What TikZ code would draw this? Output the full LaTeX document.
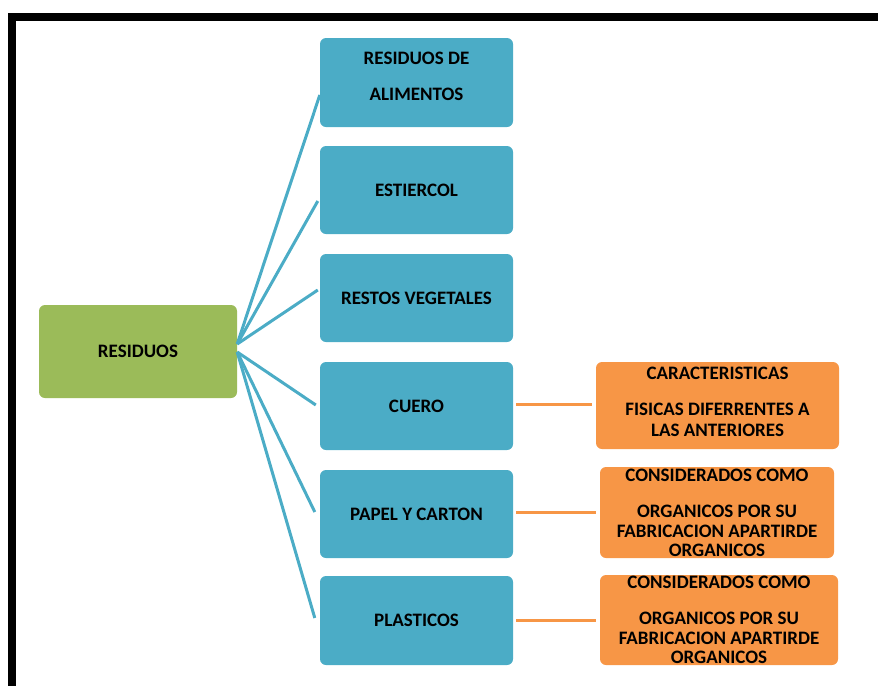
\documentclass[tikz,border=0pt]{standalone}
\usepackage{fontspec}
\setmainfont{Carlito}
\usetikzlibrary{calc}

\definecolor{boxblue}{HTML}{4BACC6}
\definecolor{boxgreen}{HTML}{9BBB59}
\definecolor{boxorange}{HTML}{F79646}

\tikzset{
  boxbase/.style={rounded corners=6pt, inner sep=0pt, align=center,
    font=\fontsize{19}{21}\selectfont\bfseries, text=black},
  rootbox/.style={boxbase, fill=boxgreen, minimum width=198pt, minimum height=93pt},
  bluebox/.style={boxbase, fill=boxblue, minimum width=193pt, minimum height=88pt},
  orangebox/.style={boxbase, fill=boxorange},
  boxtext/.style={inner sep=0pt, align=center,
    font=\fontsize{19}{21}\selectfont\bfseries, text=black},
  bluelink/.style={draw=boxblue, line width=3pt},
  orangelink/.style={draw=boxorange, line width=3pt, shorten <=3pt, shorten >=4pt},
}

\begin{document}
\begin{tikzpicture}[x=1pt, y=-1pt]
  \useasboundingbox (0,0) rectangle (878,686);

  % frame: top and left bars
  \fill[black] (8,13) rectangle (878,21);
  \fill[black] (8,13) rectangle (16,686);

  % central node
  \node[rootbox] (root) at (138,351.5) {RESIDUOS};

  % categories
  \node[bluebox, minimum height=89pt,
        label={[boxtext, yshift=6.5pt]center:{RESIDUOS DE\\[15pt]ALIMENTOS}}]
        (b1) at (416.5,82.5) {};
  \node[bluebox] (b2) at (416.5,190) {ESTIERCOL};
  \node[bluebox] (b3) at (416.5,298) {RESTOS VEGETALES};
  \node[bluebox] (b4) at (416.5,406) {CUERO};
  \node[bluebox] (b5) at (416.5,514) {PAPEL Y CARTON};
  \node[bluebox, minimum height=89pt] (b6) at (416.5,620.5) {PLASTICOS};

  % notes
  \node[orangebox, minimum width=243pt, minimum height=87pt,
        label={[boxtext, yshift=4pt]center:{CARACTERISTICAS\\[15pt]FISICAS DIFERRENTES A\\LAS ANTERIORES}}]
        (o1) at (717.5,405.5) {};
  \node[orangebox, minimum width=234pt, minimum height=91pt] (o2) at (717,512.5)
        {CONSIDERADOS COMO\\[15pt]ORGANICOS POR SU\\[-1pt]FABRICACION APARTIRDE\\[-2pt]ORGANICOS};
  \node[orangebox, minimum width=238pt, minimum height=90pt] (o3) at (719,620)
        {CONSIDERADOS COMO\\[15pt]ORGANICOS POR SU\\[-1pt]FABRICACION APARTIRDE\\[-2pt]ORGANICOS};

  % fan of connectors from the central node
  \coordinate (rootU) at ($(root.east)+(0,-7.5)$);
  \coordinate (rootL) at ($(root.east)+(0,0.5)$);
  \draw[bluelink] (rootU) -- ($(b1.west)+(0,12.5)$);
  \draw[bluelink] (rootU) -- ($(b2.west)+(-2,11)$);
  \draw[bluelink] (rootU) -- ($(b3.west)+(-2,-8)$);
  \draw[bluelink] (rootL) -- ($(b4.west)+(-4,-1)$);
  \draw[bluelink] (rootL) -- ($(b5.west)+(-5,-2)$);
  \draw[bluelink] (rootL) -- ($(b6.west)+(-5,-2.5)$);

  % links to the notes
  \coordinate (l4) at ($(b4.east)+(0,-2)$);
  \coordinate (l5) at ($(b5.east)+(0,-2)$);
  \draw[orangelink] (l4) -- (l4 -| o1.west);
  \draw[orangelink] (l5) -- (l5 -| o2.west);
  \draw[orangelink] (b6.east) -- (b6.east -| o3.west);
\end{tikzpicture}
\end{document}
